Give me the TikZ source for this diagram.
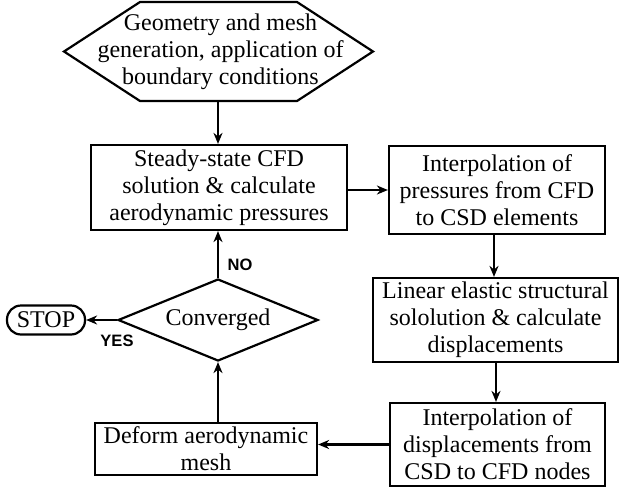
\documentclass[tikz,border=0pt]{standalone}
\usepackage{fontspec}
\setmainfont{Liberation Serif}
\newfontfamily\labelfont{Liberation Sans}
\usetikzlibrary{shapes.geometric, arrows.meta}

\begin{document}
\begin{tikzpicture}[x=1pt, y=-1pt, line width=2.2pt,
    every node/.style={font=\fontsize{24}{27}\selectfont, align=center, inner sep=0pt},
    box/.style={draw, rectangle},
    arrow/.style={-{Stealth[length=11pt, width=9pt]}},
    answer/.style={font=\labelfont\bfseries\fontsize{16.5}{18}\selectfont}]
  \useasboundingbox (0,0) rectangle (619,488);

  % start
  \node (geom) at (220.5,51.5) {Geometry and mesh\\generation, application of\\boundary conditions};
  \draw (geom.center) ++(-156.5,0) -- ++(76,-49.5) -- ++(157,0) -- ++(76,49.5)
        -- ++(-76,49.5) -- ++(-157,0) -- cycle;
  \coordinate (geombot) at (218,101);

  % loop
  \node[box, minimum width=256, minimum height=85] (cfd) at (219,187.5)
       {Steady-state CFD\\solution \& calculate\\aerodynamic pressures};
  \node[box, minimum width=216, minimum height=88] (press) at (497,190)
       {Interpolation of\\pressures from CFD\\to CSD elements};
  \node[box, minimum width=245, minimum height=84] (elastic) at (495.5,320)
       {Linear elastic structural\\sololution \& calculate\\displacements};
  \node[box, minimum width=215, minimum height=83] (disp) at (497.5,444.5)
       {Interpolation of\\displacements from\\CSD to CFD nodes};
  \node[box, minimum width=222, minimum height=52] (deform) at (206,449)
       {Deform aerodynamic\\mesh};
  \node[draw, diamond, aspect=2.44, minimum width=200, minimum height=82] (conv) at (218,320) {Converged};
  \node[draw, rounded corners=14pt, minimum width=78, minimum height=29] (stop) at (46,320) {STOP};
  \node[answer] (no) at (240,265) {NO};
  \node[answer] (yes) at (117,341) {YES};

  \draw[arrow] (geombot) -- (geombot |- cfd.north);
  \draw[arrow] (cfd.east |- press.west) -- (press.west);
  \draw[arrow] (press.south -| 494,0) -- (494,0 |- elastic.north);
  \draw[arrow] (elastic.south -| 496,0) -- (496,0 |- disp.north);
  \draw[arrow] (disp.west) -- (disp.west -| deform.east);
  \draw[arrow] (deform.north -| conv.south) -- (conv.south);
  \draw[arrow] (conv.north) -- (conv.north |- cfd.south);
  \draw[arrow] (conv.west) -- (stop.east);
\end{tikzpicture}
\end{document}
